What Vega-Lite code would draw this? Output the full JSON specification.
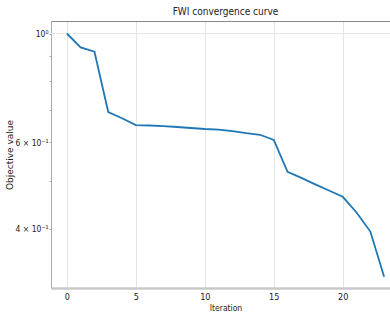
{
  "$schema": "https://vega.github.io/schema/vega-lite/v6.json",
  "autosize": "none",
  "width": 349,
  "height": 267,
  "padding": {"left": 51, "top": 21, "right": 0, "bottom": 25},
  "background": "white",
  "config": {
    "view": {"stroke": null},
    "font": "DejaVu Sans Condensed",
    "title": {"font": "DejaVu Sans Condensed", "fontSize": 10, "fontWeight": "normal", "color": "#222", "offset": 4}
  },
  "title": {"text": "FWI convergence curve", "anchor": "middle"},
  "resolve": {"axis": {"x": "independent"}},
  "layer": [
    {
      "data": {"values": [{"y": 1}]},
      "mark": {"type": "rule", "color": "#e6e6e6", "strokeWidth": 1},
      "encoding": {
        "y": {"field": "y", "type": "quantitative", "scale": {"type": "log", "domain": [0.3032, 1.0604], "nice": false}},
        "x": {"datum": -1.15, "type": "quantitative", "scale": {"domain": [-1.15, 24.15], "nice": false, "zero": false},
          "axis": {"orient": "top", "labels": false, "ticks": false, "grid": false, "title": null, "domainColor": "#888", "domainWidth": 1}},
        "x2": {"datum": 24.15}
      }
    },
    {
      "data": {"values": [
        {"iter": 0, "obj": 1.0},
        {"iter": 1, "obj": 0.937},
        {"iter": 2, "obj": 0.918},
        {"iter": 3, "obj": 0.692},
        {"iter": 4, "obj": 0.672},
        {"iter": 5, "obj": 0.651},
        {"iter": 6, "obj": 0.6496},
        {"iter": 7, "obj": 0.648},
        {"iter": 8, "obj": 0.645},
        {"iter": 9, "obj": 0.642},
        {"iter": 10, "obj": 0.639},
        {"iter": 11, "obj": 0.637},
        {"iter": 12, "obj": 0.633},
        {"iter": 13, "obj": 0.627},
        {"iter": 14, "obj": 0.622},
        {"iter": 15, "obj": 0.607},
        {"iter": 16, "obj": 0.523},
        {"iter": 17, "obj": 0.508},
        {"iter": 18, "obj": 0.493},
        {"iter": 19, "obj": 0.479},
        {"iter": 20, "obj": 0.465},
        {"iter": 21, "obj": 0.432},
        {"iter": 22, "obj": 0.395},
        {"iter": 23, "obj": 0.3197}
      ]},
      "mark": {"type": "line", "color": "#1f77b4", "strokeWidth": 1.8},
      "encoding": {
        "x": {"field": "iter", "type": "quantitative",
          "axis": {"orient": "bottom", "values": [0, 5, 10, 15, 20], "grid": true, "gridColor": "#e6e6e6", "gridWidth": 1,
            "domainColor": "#c8c8c8", "domainWidth": 2.5, "ticks": false, "labelPadding": 4,
            "labelFont": "DejaVu Sans Condensed", "labelFontSize": 9, "labelColor": "#222",
            "title": "Iteration", "titleFont": "DejaVu Sans Condensed", "titleFontSize": 8.5, "titleFontWeight": "normal", "titleColor": "#222", "titlePadding": 2}},
        "y": {"field": "obj", "type": "quantitative",
          "axis": {"values": [0.3, 0.4, 0.5, 0.6, 0.7, 0.8, 0.9, 1.0], "grid": false,
            "labelExpr": "datum.value == 1 ? '10⁰' : datum.value == 0.6 ? '6 × 10⁻¹' : datum.value == 0.4 ? '4 × 10⁻¹' : ''",
            "tickSize": 2, "tickColor": "#aaa", "domainColor": "#aaa", "domainWidth": 1, "labelPadding": 1,
            "labelFont": "DejaVu Sans Condensed", "labelFontSize": 8.5, "labelColor": "#222",
            "title": "Objective value", "titleFont": "DejaVu Sans", "titleFontSize": 9, "titleFontWeight": "normal", "titleColor": "#222", "titlePadding": 1}}
      }
    }
  ]
}
